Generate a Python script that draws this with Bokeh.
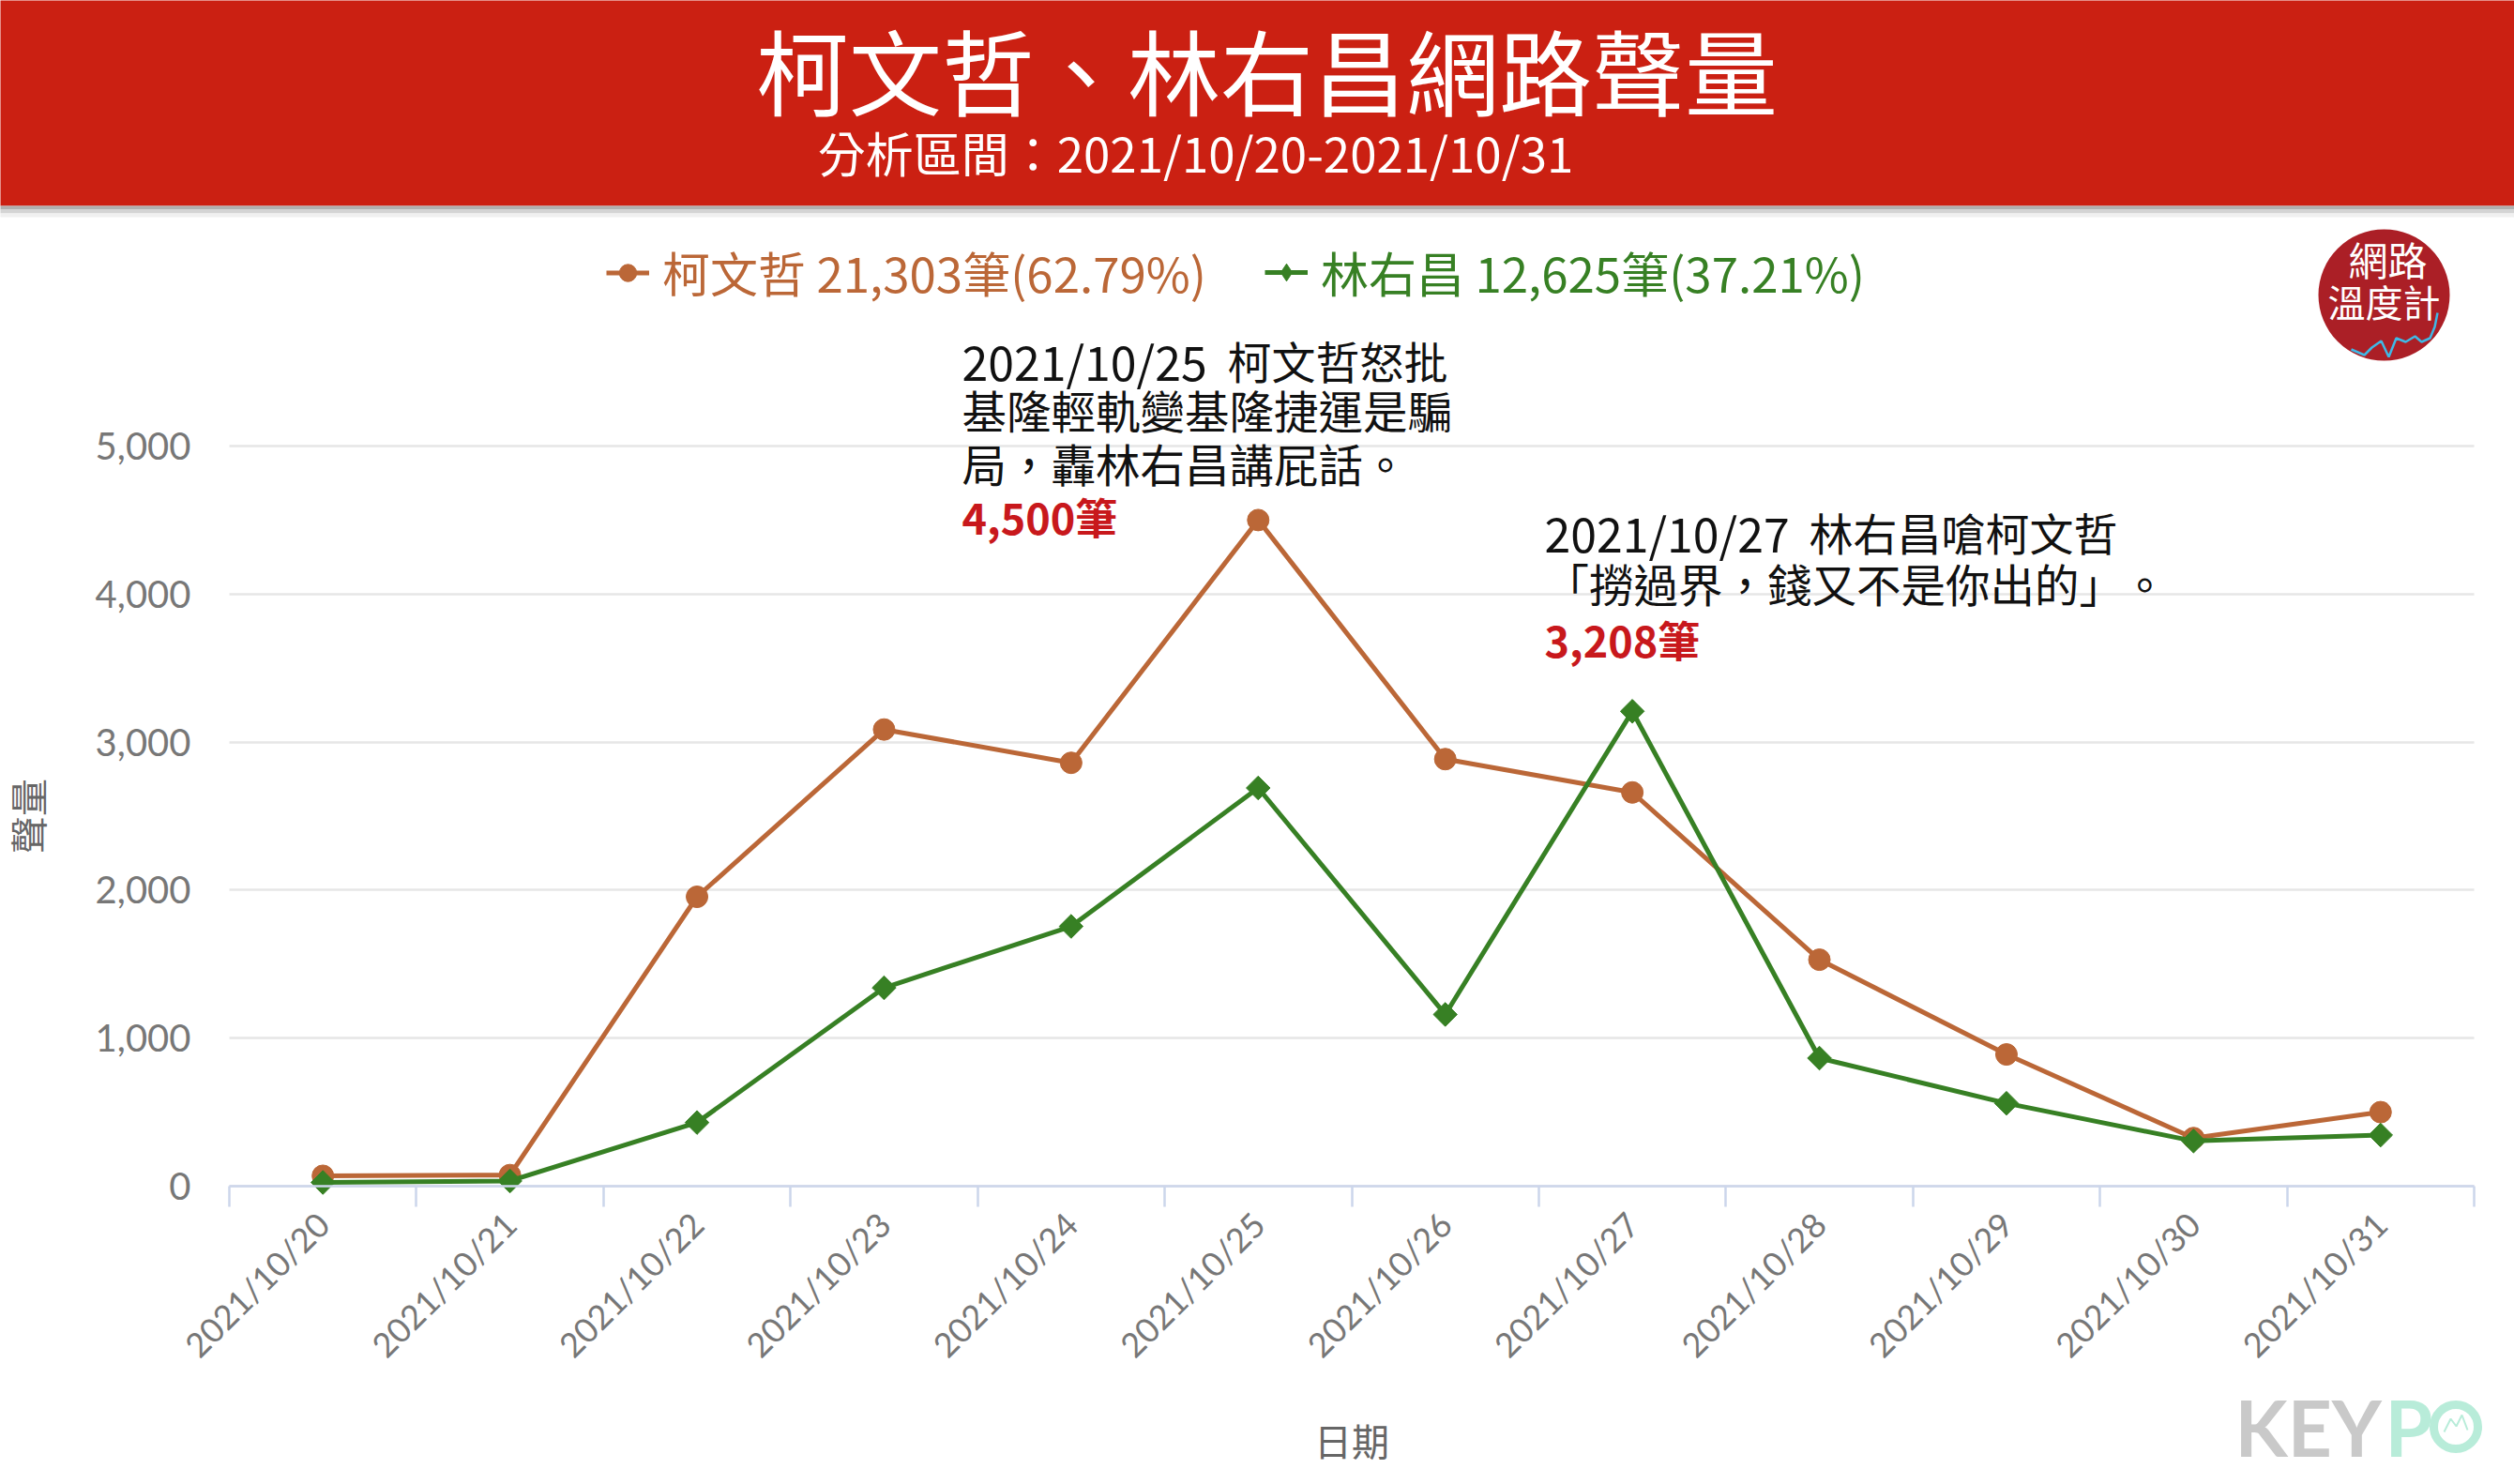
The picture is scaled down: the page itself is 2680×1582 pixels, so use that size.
from bokeh.embed import file_html
from bokeh.models import (BoxAnnotation, FixedTicker, Label, Legend, LegendItem,
                          NumeralTickFormatter, PolyAnnotation, Range1d)
from bokeh.plotting import figure
from bokeh.resources import INLINE

dates = ["2021/10/20", "2021/10/21", "2021/10/22", "2021/10/23", "2021/10/24", "2021/10/25",
         "2021/10/26", "2021/10/27", "2021/10/28", "2021/10/29", "2021/10/30", "2021/10/31"]
ko = [70, 75, 1955, 3085, 2860, 4500, 2885, 2660, 1530, 890, 325, 500]
lin = [25, 35, 430, 1340, 1755, 2690, 1160, 3208, 865, 560, 305, 345]
y_ticks = [0, 1000, 2000, 3000, 4000, 5000]

ORANGE = "#bb6737"
GREEN = "#378024"
RED = "#cb2012"
CJK = "Noto Sans CJK TC"
LATIN = "Lato"

W, H = 2680, 1582

# the frame fills the canvas, so annotations outside the plot area are not clipped.
# plot area in pixels: x 0..12 -> 244..2637, y 0..5000 -> 1264..475
x_scale = (2637 - 244) / 12
y_scale = (1264 - 475) / 5000

# points sit mid-way between the tick marks
x = [i + 0.5 for i in range(len(dates))]

p = figure(width=W, height=H, output_backend="svg", toolbar_location=None,
           x_range=Range1d(-244 / x_scale, 12 + (W - 2637) / x_scale),
           y_range=Range1d(-(H - 1264) / y_scale, 5000 + 475 / y_scale),
           min_border=0, outline_line_color=None, x_axis_label="日期", y_axis_label="聲量")

xaxis = p.xaxis[0]
xaxis.fixed_location = 0
xaxis.bounds = (0, 12)
xaxis.ticker = FixedTicker(ticks=x, minor_ticks=list(range(13)))
xaxis.major_label_overrides = dict(zip(x, dates))
xaxis.major_label_orientation = 0.785
xaxis.major_label_text_font = LATIN
xaxis.major_label_text_font_size = "36px"
xaxis.major_label_text_color = "#777777"
xaxis.major_label_standoff = 12
xaxis.major_tick_line_color = None
xaxis.major_tick_in = 0
xaxis.major_tick_out = 22
xaxis.minor_tick_in = 0
xaxis.minor_tick_out = 22
xaxis.minor_tick_line_color = "#ccd6eb"
xaxis.minor_tick_line_width = 2.5
xaxis.axis_line_color = "#ccd6eb"
xaxis.axis_line_width = 2.5
xaxis.axis_label_text_font = CJK
xaxis.axis_label_text_font_size = "40px"
xaxis.axis_label_text_font_style = "normal"
xaxis.axis_label_text_color = "#666666"
xaxis.axis_label_standoff = 32

yaxis = p.yaxis[0]
yaxis.fixed_location = 0
yaxis.bounds = (0, 5000)
yaxis.ticker = FixedTicker(ticks=y_ticks)
yaxis.formatter = NumeralTickFormatter(format="0,0")
yaxis.major_label_text_font = LATIN
yaxis.major_label_text_font_size = "40px"
yaxis.major_label_text_color = "#777777"
yaxis.major_label_standoff = 35
yaxis.major_tick_line_color = None
yaxis.minor_tick_line_color = None
yaxis.axis_line_color = None
yaxis.axis_label_text_font = CJK
yaxis.axis_label_text_font_size = "40px"
yaxis.axis_label_text_font_style = "normal"
yaxis.axis_label_text_color = "#666666"
yaxis.axis_label_standoff = 41

p.xgrid.visible = False
p.ygrid.grid_line_color = "#e6e6e6"
p.ygrid.grid_line_width = 2.5
p.ygrid.cross_bounds = (0, 12)

l1 = p.line(x, ko, line_color=ORANGE, line_width=5)
m1 = p.scatter(x, ko, marker="circle", size=23, color=ORANGE)
l2 = p.line(x, lin, line_color=GREEN, line_width=5)
m2 = p.scatter(x, lin, marker="square", angle=0.785, size=18, color=GREEN)
# legends draw markers unrotated, so the legend takes a true diamond that hides inside m2
d2 = p.scatter(x, lin, marker="diamond", size=24, color=GREEN)


def box(left, top, right, bottom, **kw):
    p.add_layout(BoxAnnotation(left=left, right=right, top=top, bottom=bottom,
                               left_units="canvas", right_units="canvas",
                               top_units="canvas", bottom_units="canvas", **kw))


def label(sx, sy, text, size, color, font=CJK, style="normal", align="left"):
    p.add_layout(Label(x=sx, y=sy, x_units="canvas", y_units="canvas", text=text,
                       text_font=font, text_font_size=f"{size}px", text_color=color,
                       text_font_style=style, text_align=align, text_baseline="middle"))


def poly(xs, ys, color, width):
    p.add_layout(PolyAnnotation(xs=xs, ys=ys, xs_units="canvas", ys_units="canvas",
                                fill_alpha=0, line_color=color, line_alpha=1, line_width=width))


# header band with its soft shadow
box(-10, -10, W + 10, 219, fill_color=RED, fill_alpha=1, line_alpha=0)
box(-10, 219, W + 10, 223, fill_color="#b0b0b0", fill_alpha=1, line_alpha=0)
box(-10, 223, W + 10, 227, fill_color="#d4d4d4", fill_alpha=1, line_alpha=0)
box(-10, 227, W + 10, 231, fill_color="#f0f0f0", fill_alpha=1, line_alpha=0)
label(1350, 72, "柯文哲、林右昌網路聲量", 99, "white", align="center")
label(1274, 161, "分析區間：2021/10/20-2021/10/31", 51, "white", align="center")

# legend, one per series so each label keeps its colour
for renderers, text, color, lx, ly, gh in [([l1, m1], "柯文哲 21,303筆(62.79%)", ORANGE, 646, 1255, 55),
                                           ([l2, d2], "林右昌 12,625筆(37.21%)", GREEN, 1348, 1255, 70)]:
    p.add_layout(Legend(items=[LegendItem(label=text, renderers=renderers)],
                        location=(lx, ly), background_fill_alpha=0,
                        border_line_alpha=0, glyph_width=46, glyph_height=gh, label_standoff=14,
                        label_text_font=CJK, label_text_font_size="51px", label_text_color=color,
                        margin=0, padding=0))

# notes
label(1025, 383, "2021/10/25", 50, "#111111")
label(1308, 383, "柯文哲怒批", 47, "#111111")
label(1025, 436, "基隆輕軌變基隆捷運是騙", 47.5, "#111111")
label(1025, 493, "局，轟林右昌講屁話。", 47.5, "#111111")
label(1025, 550, "4,500筆", 45, "#c8181c", style="bold")
label(1646, 566, "2021/10/27", 50, "#111111")
label(1928, 566, "林右昌嗆柯文哲", 47, "#111111")
label(1646, 621, "「撈過界，錢又不是你出的」", 47.5, "#111111")
label(2262, 621, "。", 47.5, "#111111")
label(1646, 681, "3,208筆", 45, "#c8181c", style="bold")

# round badge, top right
box(2471, 244, 2611, 384, fill_color="#ab1f26", fill_alpha=1, line_alpha=0, border_radius=70)
label(2545, 275, "網路", 42, "white", align="center")
label(2541, 320, "溫度計", 40, "white", align="center")
spark_x = [2506, 2520, 2528, 2538, 2546, 2554, 2564, 2574, 2581, 2590, 2595, 2598]
spark_y = [372, 378, 370, 363, 380, 360, 364, 358, 364, 360, 348, 333]
poly(spark_x + spark_x[::-1], spark_y + spark_y[::-1], "#3fb9e6", 2.5)

# KEYPO mark, bottom right
label(2382, 1520, "KEY", 82, "#c9c9c9", font=LATIN, style="bold")
label(2542, 1520, "P", 82, "#b8ecd9", font=LATIN, style="bold")
box(2594, 1497, 2641, 1544, fill_alpha=0, line_color="#b8ecd9", line_alpha=1, line_width=9, border_radius=24)
peak_x = [2605, 2612, 2618, 2624, 2630]
peak_y = [1526, 1512, 1520, 1508, 1524]
poly(peak_x + peak_x[::-1], peak_y + peak_y[::-1], "#b8ecd9", 2)

open("out.html", "w").write(file_html(p, INLINE))
